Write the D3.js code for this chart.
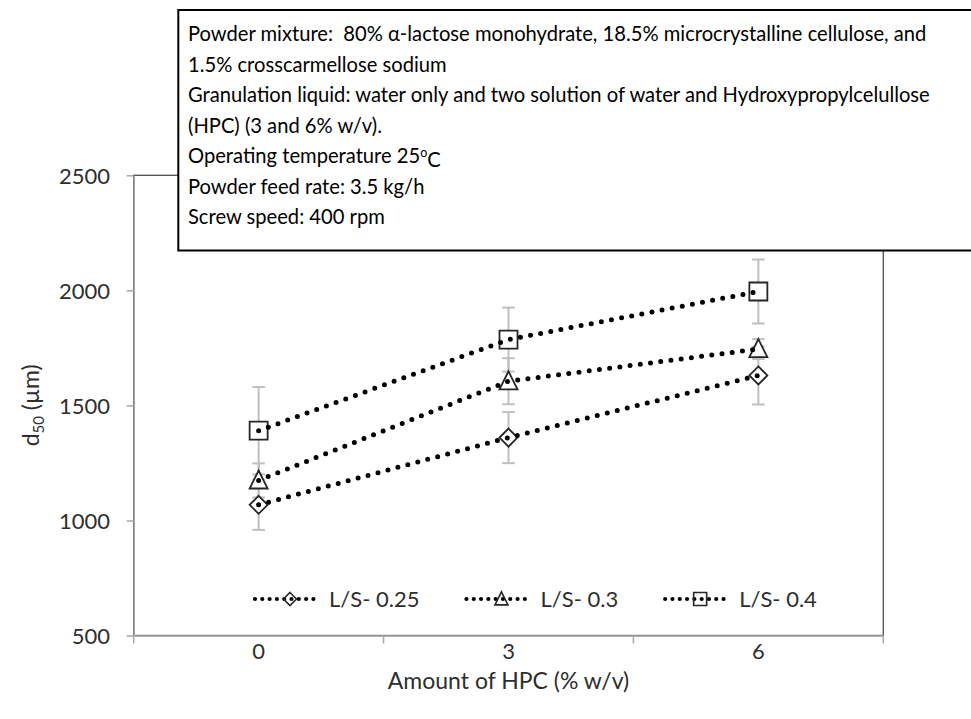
<!DOCTYPE html>
<html>
<head>
<meta charset="utf-8">
<script src="https://cdn.jsdelivr.net/npm/d3@7"></script>
<style>
  html, body { margin: 0; padding: 0; background: #fff; }
  svg { display: block; }
  text { font-family: Lato, "Open Sans", sans-serif; }
</style>
</head>
<body>
<svg id="chart" width="971" height="719"></svg>
<script>
// ---- data ----
const categories = ["0", "3", "6"];
const seriesNames = ["L/S- 0.25", "L/S- 0.3", "L/S- 0.4"];
const seriesMarkers = ["diamond", "triangle", "square"];
const ls025 = [1068, 1360, 1630];
const ls03 = [1174, 1605, 1745];
const ls04 = [1390, 1786, 1995];
const err025 = [109, 111, 126];
const err03 = [74, 100, 43];
const err04 = [190, 139, 139];
const yTicks = [500, 1000, 1500, 2000, 2500];
const xTitle = "Amount of HPC (% w/v)";
const noteLines = [
  "Powder mixture:  80% α-lactose monohydrate, 18.5% microcrystalline cellulose, and",
  "1.5% crosscarmellose sodium",
  "Granulation liquid: water only and two solution of water and Hydroxypropylcelullose",
  "(HPC) (3 and 6% w/v).",
  "Operating temperature 25|o|C",
  "Powder feed rate: 3.5 kg/h",
  "Screw speed: 400 rpm"
];

const seriesValues = [ls025, ls03, ls04];
const seriesErrors = [err025, err03, err04];

const svg = d3.select("#chart");

const pLeft = 133.7, pRight = 883.3, pTop = 175.3, pBottom = 635.5;
const y = d3.scaleLinear().domain([500, 2500]).range([pBottom, pTop]);
const x = d3.scaleBand().domain(categories).range([pLeft, pRight]);
const cx = c => x(c) + x.bandwidth() / 2;
const textColor = "#2e2e2e";

// plot area frame
svg.append("rect")
  .attr("x", pLeft).attr("y", pTop)
  .attr("width", pRight - pLeft).attr("height", pBottom - pTop)
  .attr("fill", "none").attr("stroke", "#4d4d4d").attr("stroke-width", 1.3);

// y axis
const yAxis = svg.append("g")
  .attr("transform", `translate(${pLeft},0)`)
  .call(d3.axisLeft(y).tickValues(yTicks).tickFormat(d3.format("d"))
    .tickSize(7).tickPadding(16.7).tickSizeOuter(0));
yAxis.select(".domain").attr("stroke", "#a6a6a6").attr("stroke-width", 1.5);
yAxis.selectAll(".tick line").attr("stroke", "#a6a6a6").attr("stroke-width", 1.5);
yAxis.selectAll(".tick text")
  .attr("font-size", 22).attr("fill", textColor).attr("dy", "0.36em")
  .style("font-family", "Lato, sans-serif");

// x axis
const xAxis = svg.append("g")
  .attr("transform", `translate(0,${pBottom})`)
  .call(d3.axisBottom(x).tickSize(0).tickPadding(0).tickSizeOuter(0));
xAxis.select(".domain").attr("stroke", "#a6a6a6").attr("stroke-width", 1.5);
xAxis.selectAll(".tick text")
  .attr("font-size", 22).attr("fill", textColor)
  .attr("dy", null).attr("y", 659 - pBottom)
  .style("font-family", "Lato, sans-serif");
const boundaries = categories.map(c => x(c)).concat([pRight]);
xAxis.selectAll(".bnd").data(boundaries).enter().append("line")
  .attr("x1", d => d).attr("x2", d => d)
  .attr("y1", 0).attr("y2", 8)
  .attr("stroke", "#a6a6a6").attr("stroke-width", 1.5);

// axis titles
svg.append("text")
  .attr("x", (pLeft + pRight) / 2).attr("y", 689)
  .attr("text-anchor", "middle")
  .attr("font-size", 23).attr("fill", textColor)
  .text(xTitle);

const yt = svg.append("text")
  .attr("transform", `translate(39,${(pTop + pBottom) / 2}) rotate(-90)`)
  .attr("text-anchor", "middle")
  .attr("font-size", 23).attr("fill", textColor);
yt.append("tspan").text("d");
yt.append("tspan").attr("font-size", 15).attr("dy", 5).text("50");
yt.append("tspan").attr("dy", -5).text(" (µm)");

// marker path
const sym = {
  diamond: s => `M0,${-s/2}L${s/2},0L0,${s/2}L${-s/2},0Z`,
  triangle: s => `M0,${-s*0.55}L${s/2},${s*0.45}L${-s/2},${s*0.45}Z`,
  square: s => `M${-s/2},${-s/2}H${s/2}V${s/2}H${-s/2}Z`
};

const plot = svg.append("g");

// error bars
seriesValues.forEach((vals, si) => {
  const g = plot.append("g");
  categories.forEach((c, i) => {
    const v = vals[i], e = seriesErrors[si][i], px = cx(c);
    g.append("line").attr("x1", px).attr("x2", px)
      .attr("y1", y(v - e)).attr("y2", y(v + e))
      .attr("stroke", "#bfbfbf").attr("stroke-width", 2);
    [v - e, v + e].forEach(b => {
      g.append("line").attr("x1", px - 6.3).attr("x2", px + 6.3)
        .attr("y1", y(b)).attr("y2", y(b))
        .attr("stroke", "#bfbfbf").attr("stroke-width", 2);
    });
  });
});

// markers
seriesValues.forEach((vals, si) => {
  plot.append("g").selectAll("path").data(vals).enter().append("path")
    .attr("transform", (d, i) => `translate(${cx(categories[i])},${y(d)})`)
    .attr("d", sym[seriesMarkers[si]](18))
    .attr("fill", "#fff").attr("stroke", "#262626").attr("stroke-width", 1.8);
});

// dotted lines
const line = d3.line().x((d, i) => cx(categories[i])).y(d => y(d));
seriesValues.forEach(vals => {
  plot.append("path").datum(vals)
    .attr("d", line)
    .attr("fill", "none").attr("stroke", "#000")
    .attr("stroke-width", 5).attr("stroke-linecap", "round")
    .attr("stroke-dasharray", "0 10.3");
});

// legend
const lg = svg.append("g");
let lx = 255;
const ly = 599;
seriesNames.forEach((name, si) => {
  lg.append("line").attr("x1", lx).attr("x2", lx + 59)
    .attr("y1", ly).attr("y2", ly)
    .attr("stroke", "#000").attr("stroke-width", 4.2)
    .attr("stroke-linecap", "round").attr("stroke-dasharray", "0 7.3");
  lg.append("path")
    .attr("transform", `translate(${lx + 35},${ly})`)
    .attr("d", sym[seriesMarkers[si]](13))
    .attr("fill", "none").attr("stroke", "#262626").attr("stroke-width", 1.6);
  const t = lg.append("text").attr("x", lx + 74).attr("y", ly + 8)
    .attr("font-size", 22).attr("fill", textColor).text(name);
  lx = lx + 74 + t.node().getComputedTextLength() + 47;
});

// annotation box
svg.append("rect")
  .attr("x", 178.3).attr("y", 10)
  .attr("width", 820).attr("height", 240.5)
  .attr("fill", "#fff").attr("stroke", "#000").attr("stroke-width", 2);

const note = svg.append("g");
const nTexts = noteLines.map((ln, i) => {
  const t = note.append("text")
    .attr("x", 188).attr("y", 34 + i * 30.5)
    .attr("dy", "0.35em")
    .attr("fill", "#000")
    .style("white-space", "pre");
  const parts = ln.split("|");
  if (parts.length === 3) {
    t.append("tspan").text(parts[0]);
    t.append("tspan").attr("dy", "-0.5em").attr("font-size", "0.62em").text(parts[1]);
    t.append("tspan").attr("dy", "0.5em").attr("font-size", "1em").text(parts[2]);
  } else {
    t.text(ln);
  }
  return t;
});
// fit font size so that the first line spans its width in the picture
nTexts.forEach(t => t.attr("font-size", 16));
const w0 = nTexts[0].node().getComputedTextLength();
const fs = 16 * 739 / w0;
nTexts.forEach(t => t.attr("font-size", fs));
</script>
</body>
</html>
